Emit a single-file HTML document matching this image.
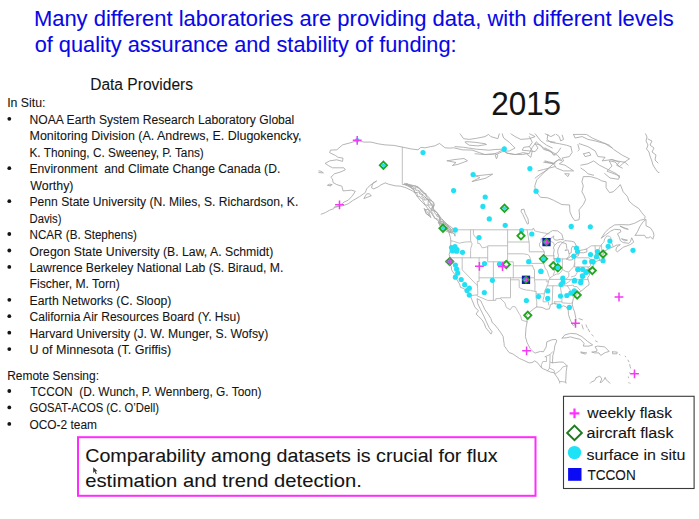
<!DOCTYPE html>
<html><head><meta charset="utf-8"><style>
html,body{margin:0;padding:0;background:#fff;width:699px;height:519px;overflow:hidden}
svg{display:block}
text{font-family:"Liberation Sans",sans-serif;white-space:pre;stroke-width:0.08px}
</style></head><body>
<svg width="699" height="519" viewBox="0 0 699 519">
<rect width="699" height="519" fill="#fff"/>
<defs><clipPath id="mc"><rect x="318" y="133.2" width="341.5" height="250.3"/></clipPath></defs>
<g clip-path="url(#mc)" fill="none" stroke-linejoin="round" stroke-linecap="round">
<path d="M452.8 229.8 L533.0 229.8 L533.0 228.2 L534.0 228.6 L534.6 230.9 L537.7 231.6 L542.0 232.6 L546.2 233.3 L549.1 233.9 M569.3 253.8 L569.0 256.6 L567.3 257.8 M578.9 252.9 L579.0 254.2 M586.7 248.9 L591.3 245.8 L600.4 245.8 L601.5 244.6 L603.8 242.2 L604.7 238.9 L606.9 235.9 L609.5 236.3 L610.9 237.5 L610.9 242.9 L612.1 243.3 L613.2 246.6 M402.3 147.1 L402.3 184.6 L407.7 184.3 L412.3 188.9 L418.0 186.6 L419.4 188.2 L423.7 192.2 L428.5 199.3 L433.7 202.2 L433.7 204.6 L432.0 206.9 M470.4 295.6 L477.2 294.9 L477.0 295.8 L487.6 300.4 L495.8 300.4 L495.8 298.6 L500.6 298.6 L504.9 302.9 L506.3 307.4 L510.3 309.8 L512.3 306.6 L515.2 306.7 L519.2 313.8 L520.6 315.8 L521.7 320.1 L527.3 321.9 M450.8 240.8 L453.6 241.3 L459.3 243.2 L465.0 242.0 L470.9 241.8 M470.6 229.8 L470.6 240.2 L470.9 241.8 L472.1 243.8 L471.6 245.8 L470.7 248.6 L470.6 250.6 L470.6 257.8 M450.2 257.8 L487.7 257.8 M462.2 257.8 L462.2 269.8 L477.5 285.8 L477.6 288.6 L477.8 293.8 L477.2 294.9 M479.1 257.8 L479.1 281.4 L477.2 281.4 L477.5 285.8 M479.1 277.8 L513.3 277.8 M493.4 261.8 L493.4 300.4 M487.7 247.8 L487.7 261.8 L507.6 261.8 M473.4 229.8 L473.4 233.8 L474.4 235.9 L477.6 239.2 L477.8 243.6 L479.5 243.3 L482.1 247.8 L484.1 247.6 L486.7 246.9 L487.7 247.8 L487.7 245.8 L507.6 245.8 M507.6 229.8 L507.6 261.8 L513.3 261.8 L513.3 277.8 M513.3 265.8 L532.6 265.8 M513.3 277.8 L534.5 277.8 M510.5 277.8 L510.5 297.8 L500.4 297.8 L500.6 298.6 M510.5 279.8 L519.2 279.8 L519.2 287.5 L522.0 288.9 L526.3 290.1 L530.6 290.4 L534.8 291.4 L536.1 291.6 M507.6 242.0 L529.0 242.0 M507.6 253.8 L523.4 253.8 L527.7 254.6 L529.3 255.8 L530.6 259.8 L531.0 263.4 L531.2 263.4 L543.7 263.4 M527.1 229.8 L528.1 235.8 L529.0 242.0 L529.3 244.6 L529.3 251.8 L544.2 251.8 M532.6 265.8 L533.7 269.4 L534.5 269.4 L534.5 279.8 L535.0 284.1 L534.9 291.2 M534.5 279.8 L547.2 279.8 L546.6 281.8 L548.5 281.8 M536.1 291.6 L536.1 293.8 L544.4 293.8 M536.1 293.8 L536.1 297.8 L536.8 301.8 L536.7 306.9 M544.2 251.8 L544.5 254.9 L546.0 257.8 L544.8 260.9 L543.7 263.4 L545.1 268.1 L547.1 270.6 L549.1 276.6 L550.2 277.9 L548.8 279.8 L548.5 281.8 L547.4 285.8 L546.0 288.1 L544.5 291.4 L544.4 293.8 L544.0 296.6 L543.1 299.8 L543.1 301.8 L548.4 301.8 L548.8 304.9 M541.1 238.9 L541.1 241.8 L539.4 243.3 L539.7 246.6 L542.5 248.9 L544.2 251.8 M545.8 255.8 L553.9 255.8 M546.5 239.5 L550.5 241.3 L553.4 242.6 L554.5 245.3 M554.7 258.9 L554.7 268.1 L554.5 271.8 L553.4 274.6 M550.2 277.8 L553.1 275.8 L556.2 274.1 L559.1 273.9 L561.9 270.9 L562.5 269.4 L565.6 271.4 L568.8 272.1 L570.7 269.8 L573.6 266.9 L574.7 263.2 M562.4 258.9 L562.4 269.4 M554.8 258.9 L566.3 258.9 M549.4 279.4 L571.3 279.4 M565.6 279.6 L587.8 279.6 M571.3 279.4 L568.8 281.8 L563.9 284.9 L563.9 285.8 M546.8 285.8 L567.3 285.8 M552.8 285.8 L552.2 304.1 M560.2 285.8 L561.9 296.6 L561.9 301.8 M554.5 301.8 L561.9 301.8 L562.2 302.9 L570.5 303.4 L571.9 302.9 M554.5 301.8 L555.1 304.1 M567.3 285.8 L569.9 289.8 L573.3 297.4 M567.3 285.8 L573.3 285.1 L573.9 286.6 L577.0 286.6 L580.3 290.4 M565.6 279.4 L568.8 276.6 L568.8 272.9 M571.3 276.9 L575.3 275.8 L577.6 271.8 L580.7 268.9 L582.7 268.6 L584.7 270.6 L586.7 274.1 M574.7 266.9 L588.1 266.9 M574.7 266.9 L574.7 257.8 M576.8 257.8 L589.4 257.8 L590.4 259.8 L591.3 260.4 L593.3 261.8 M591.3 260.4 L590.1 263.4 L591.0 265.4 L589.0 266.9 M588.1 266.9 L588.4 271.9 L590.3 271.9 M595.1 245.8 L595.3 251.3 L595.4 254.8 M594.7 257.6 L594.7 261.4 L594.3 261.8 M594.7 257.6 L599.5 257.6 L599.5 260.6 M597.5 254.8 L598.7 250.2 L600.4 245.8 M601.5 244.6 L601.8 251.3 L602.7 253.3 M595.4 254.8 L601.0 254.9 L602.4 254.3 M541.4 367.6 L541.4 364.8 L542.8 361.5 L546.5 361.5 L546.5 356.8 L544.8 356.8 L550.1 354.5 L552.5 351.8 M550.1 354.6 L549.9 362.1 L552.8 362.9 M549.9 362.1 L549.5 368.1 L547.4 370.9 M549.5 368.1 L553.9 370.1 L554.8 372.9 M555.4 373.8 L559.9 370.6 L562.8 366.9 L567.2 365.8 M559.9 381.4 L565.8 382.1" stroke="#b9b9b9" stroke-width="0.9"/>
<path d="M334.2 207.3 L339.6 205.8 L343.9 202.2 L348.2 200.2 L352.4 195.8 L355.3 191.3 L351.6 190.2 L346.7 190.6 L343.0 190.9 L341.9 186.2 L336.8 184.6 L333.1 182.6 L332.5 178.9 L330.8 177.3 L334.5 173.8 L341.0 171.8 L345.3 169.8 L343.9 167.8 L338.2 167.8 L332.5 167.8 L328.8 165.8 L325.1 163.4 L329.6 160.9 L336.8 159.8 L342.5 161.4 L343.0 158.1 L338.2 157.4 L335.3 155.4 L329.6 152.6 L330.5 150.1 L336.8 149.8 L342.5 144.9 L351.0 142.6 L358.1 140.4 L363.8 142.1 L371.0 142.1 L378.1 143.8 L385.2 144.9 L393.8 145.4 L402.3 147.1 L410.9 148.9 L418.0 149.8 L420.8 147.4 L425.1 147.8 L430.8 146.6 L435.1 145.8 L439.4 143.4 L445.1 147.8 L449.3 148.1 L453.6 147.8 L462.2 149.8 L472.1 150.1 L479.3 152.6 L485.0 154.6 L493.5 154.1 L497.8 152.6 L502.1 150.1 L507.8 153.4 L514.9 154.6 L523.4 152.6 L529.1 153.8 L532.0 147.8 L536.3 141.8 L540.5 145.8 L546.2 149.8 L553.4 152.6 L557.6 155.4 L561.9 160.6 L558.5 159.8 L553.4 163.8 L546.2 170.2 L542.0 174.6 L536.8 179.8 L534.8 185.8 L535.4 190.9 L540.5 197.3 L547.7 197.8 L553.4 200.2 L561.9 204.6 L569.6 204.9 L569.9 211.8 L571.9 216.6 L574.7 220.6 L579.0 219.8 L579.6 215.8 L579.0 209.8 L583.3 204.6 L585.6 199.8 L584.1 195.8 L581.9 191.8 L583.3 185.8 L581.9 181.8 L583.3 176.6 L590.4 176.6 L597.5 178.6 L601.8 180.9 L606.1 181.8 L606.1 187.8 L609.5 192.6 L613.2 191.8 L617.5 187.8 L620.3 184.6 L623.2 191.8 L627.5 196.6 L628.9 200.9 L633.2 204.9 L638.9 208.6 L641.7 212.6 L645.1 216.6 L644.6 219.3 L640.3 220.2 L634.6 223.3 L628.9 224.9 L621.8 224.6 L614.6 224.9 L608.9 228.6 L604.7 232.9 L601.2 238.3 L606.1 234.6 L610.4 231.3 L614.6 229.3 L620.3 229.8 L620.9 231.8 L617.5 233.8 L619.5 237.8 L620.3 240.6 L623.2 242.6 L628.9 243.3 L630.3 241.8 L631.7 237.8 L633.2 240.9 L633.7 242.2 L630.3 244.6 L623.2 247.3 L617.5 251.8 L615.8 250.6 L616.6 247.3 L620.3 244.6 L616.1 245.3 L613.2 246.9 L609.8 248.2 L606.1 250.2 L604.0 251.2 L603.0 255.3 L601.8 256.6 L604.7 258.1 L603.2 259.4 L600.4 260.1 L597.5 260.8 L593.8 262.6 L593.3 263.8 L593.3 266.6 L590.7 270.1 L589.0 267.8 L590.1 271.8 L589.0 275.8 L587.6 277.8 L589.0 282.6 L589.0 284.9 L586.1 286.9 L582.1 290.4 L578.4 292.9 L576.2 295.4 L573.3 298.6 L572.2 304.1 L573.3 308.6 L574.6 311.9 L575.9 318.6 L575.7 322.6 L574.7 324.9 L573.0 325.4 L571.3 322.1 L569.9 318.9 L568.5 314.6 L568.2 310.1 L566.2 306.9 L563.6 305.8 L560.8 306.9 L557.6 304.1 L553.4 303.4 L550.5 304.6 L549.4 308.9 L546.2 309.4 L542.0 307.4 L536.8 306.9 L534.0 308.6 L529.1 312.6 L526.6 315.8 L527.1 321.9 L526.0 327.8 L525.4 336.6 L527.1 342.6 L530.3 348.9 L533.4 351.8 L535.1 353.1 L540.5 351.4 L543.4 351.8 L546.2 346.9 L546.8 341.8 L551.9 339.8 L555.9 339.4 L556.8 340.9 L554.8 345.8 L554.2 350.6 L552.8 355.8 L552.5 361.8 L551.7 362.6 L554.8 362.6 L559.1 362.1 L563.3 362.1 L567.0 365.8 L566.2 371.8 L565.9 377.8 L565.6 381.8 L566.5 384.6 M559.9 384.6 L559.6 381.8 L557.6 377.8 L554.8 374.1 L553.9 372.6 L550.5 372.1 L546.2 370.1 L543.4 368.9 L541.1 367.4 L537.7 362.9 L534.8 360.9 L532.0 362.6 L529.1 362.9 L524.9 360.9 L519.4 358.4 L514.9 355.4 L512.9 353.9 L509.2 352.6 L506.9 349.6 L504.3 345.8 L504.1 343.4 L503.5 339.8 L503.2 336.6 L500.9 332.9 L497.8 328.6 L494.9 324.9 L492.4 322.9 L490.9 318.6 L488.1 314.1 L485.0 309.8 L482.7 304.9 L480.7 300.6 L477.0 298.6 L477.8 303.8 L480.7 309.8 L484.1 316.6 L486.4 321.8 L489.2 327.8 L492.1 331.8 L490.9 334.1 L489.2 331.8 L485.8 327.8 L484.4 323.8 L482.1 319.8 L478.7 316.6 L476.1 314.1 L478.4 310.6 L475.0 307.4 L471.9 299.8 L470.4 295.6 L470.1 294.6 L468.4 291.4 L466.7 290.1 L465.6 289.8 L462.7 288.1 L460.5 287.4 L459.6 284.1 L456.7 279.4 L455.3 276.9 L455.0 274.6 L453.6 272.9 L451.6 269.9 L451.3 266.6 L449.6 264.0 L450.2 261.8 L450.2 257.8 L449.1 254.6 L449.9 251.8 L450.5 247.8 L450.9 240.9 L450.5 237.8 L448.8 232.2 L452.2 232.9 L454.2 233.8 L455.0 236.2 L455.0 232.6 L453.3 229.8 L452.2 227.8 L449.3 225.8 L446.5 223.8 L442.2 221.8 L439.9 220.9 L439.4 217.8 L437.9 213.8 L433.7 209.8 L432.8 206.6 L430.8 203.8 L428.0 199.8 L423.7 195.8 L419.4 191.8 L414.9 192.9 L412.3 190.9 L406.0 187.8 L400.9 186.2 L395.2 185.8 L388.6 184.2 L385.2 182.9 L380.9 184.9 L378.1 186.9 L373.8 188.9 L371.5 187.8 L372.7 183.3 L376.7 180.9 L369.5 185.8 L366.7 188.9 L365.3 192.6 L359.6 196.6 L352.7 200.6 L348.2 203.8 L342.5 205.8 L334.2 207.3 M452.8 232.2 L449.3 231.3 L446.5 229.8 L442.2 226.6 L438.2 222.6 L442.2 223.3 L447.1 225.3 L450.8 228.6 L452.8 232.2 M430.8 217.3 L426.5 213.8 L424.8 209.8 L428.8 209.3 L429.4 213.8 L430.8 217.3 M371.0 195.8 L363.8 198.6 L366.7 193.8 L369.5 193.8 L371.0 195.8 M330.2 185.8 L332.2 184.6 L329.4 184.2 L327.4 185.3 L330.2 185.8 M318.8 172.6 L323.4 172.9 L321.1 171.3 L318.8 170.9 M333.9 208.6 L329.6 210.2 L325.4 212.6 L321.1 214.2 M635.2 235.3 L637.4 231.8 L640.3 225.8 L643.1 221.8 L646.0 219.3 L646.0 225.8 L650.3 227.8 L653.1 231.8 L654.0 235.3 L652.8 239.2 L650.3 236.6 L648.8 237.8 L646.0 237.8 L644.6 235.3 L638.9 235.3 L635.2 235.3 M621.8 238.9 L627.5 240.2 L624.6 240.9 L621.8 238.9 M620.3 226.2 L628.3 229.3 L624.6 228.6 L620.3 226.2 M562.2 338.1 L564.8 334.9 L570.5 333.4 L576.2 333.8 L581.9 336.6 L587.6 341.4 L592.7 344.9 L589.0 346.1 L583.3 346.1 L584.1 343.4 L580.4 339.4 L574.7 338.1 L570.5 336.9 L566.2 337.8 L562.2 338.1 M592.1 352.1 L596.7 351.4 L597.0 349.8 L595.0 346.9 L597.5 346.1 L604.7 346.9 L609.2 351.4 L605.2 352.6 L600.7 355.4 L599.0 352.9 L594.7 352.9 L592.1 352.1 M581.0 352.1 L586.7 352.9 L585.3 354.1 L581.0 352.9 L581.0 352.1 M612.6 351.8 L617.2 352.1 L616.9 353.8 L612.6 353.8 L612.6 351.8 M596.1 377.8 L599.8 376.1 L601.8 378.9 L600.1 382.6 L601.8 382.1 L604.1 379.4 L605.2 377.4 L606.1 379.8 L608.9 382.1 L610.4 383.8 M589.6 383.8 L591.8 381.8 L594.7 380.6 L596.1 377.8 M579.0 318.6 L582.4 319.8 M581.9 324.9 L583.3 328.9 M586.1 324.9 L587.0 327.4 M588.1 328.9 L589.6 331.8 M591.8 334.6 L593.3 336.1 M595.5 340.9 L597.3 341.8 M619.5 354.6 L620.1 354.9 M625.2 356.1 L625.8 356.9 M628.0 360.1 L628.9 361.8 M629.7 364.6 L630.0 366.1 M630.3 366.9 L630.6 368.1 M629.7 372.6 L630.0 373.4 M634.0 372.9 L634.6 373.8 M628.3 376.9 L628.6 377.8 M628.6 382.9 L630.6 383.4 M541.7 238.9 L543.4 238.8 L546.2 239.3 L550.5 238.6 L553.9 235.9 L553.4 237.8 L554.5 239.8 L557.1 240.2 L560.5 239.3 L563.3 239.8 L562.8 237.8 L561.9 234.2 L557.6 230.9 L552.5 230.6 L549.9 232.2 L547.7 233.8 L544.8 235.8 L541.7 238.9 M553.9 258.9 L557.4 258.6 L558.5 255.8 L557.6 251.8 L558.2 248.9 L560.2 244.9 L562.8 242.6 L560.5 241.8 L557.6 242.6 L554.5 245.3 L553.4 247.8 L554.2 249.8 L553.6 253.8 L553.9 256.9 L553.9 258.9 M562.8 242.6 L566.2 243.8 L566.5 245.8 L566.8 248.6 L565.0 250.6 L568.2 249.8 L569.0 253.8 L571.3 252.6 L571.3 248.9 L572.5 246.2 L574.7 247.3 L576.2 245.8 L574.5 242.2 L571.9 241.3 L567.6 240.9 L564.8 240.6 L562.8 242.6 M566.5 258.9 L569.0 260.1 L571.9 259.8 L575.6 257.4 L579.0 254.9 L577.6 254.3 L574.7 255.3 L571.9 255.3 L569.0 257.8 L566.5 258.9 M576.7 252.6 L579.0 252.6 L583.3 252.8 L587.0 251.8 L586.7 248.9 L583.3 249.8 L579.0 250.6 L577.9 251.2 L576.7 252.6 M521.6 209.7 L524.0 209.1 L525.1 213.2 L528.0 218.9 L528.6 223.6 L527.4 224.1 L525.7 220.7 L522.8 214.3 L521.0 211.4 L521.6 209.7 M447.2 160.8 L455.0 159.5 L464.0 158.5 L467.5 160.8 L458.2 164.3 L452.4 165.5 L456.0 162.5 L447.2 160.8 M475.4 175.9 L484.0 175.0 L492.7 174.1 L485.8 178.2 L471.9 181.6 L480.0 177.5 L475.4 175.9 M460.0 133.7 L463.6 138.7 L469.3 139.4 L476.5 138.3 L485.0 136.6 L488.6 134.4 L490.8 136.6 L497.9 138.7 L499.3 133.7 M465.7 141.6 L475.0 142.3 L485.0 143.7 L486.5 144.5 L477.9 145.9 L469.3 145.2 L465.0 142.3 M455.0 146.6 L463.6 147.3 L476.5 149.2 L489.3 150.2 L495.1 149.5 L502.2 149.2 M475.0 153.8 L485.0 154.5 L495.1 153.8 L497.9 155.2 L496.5 158.8 L495.1 155.2 L502.2 151.6 L509.4 150.9 L515.1 148.0 L512.2 145.2 L509.4 142.3 L503.6 138.0 L502.2 133.7 M502.2 149.5 L506.5 153.0 L515.1 154.5 L522.2 154.5 L526.5 153.8 L530.8 157.3 L532.3 150.9 L529.4 146.6 M510.8 133.7 L515.1 136.6 L520.8 139.4 L529.4 138.7 L535.1 136.6 L529.4 133.7 M529.4 136.6 L532.3 142.3 L529.4 146.6 L523.7 147.3 L522.2 150.2 L529.4 150.9 L535.1 151.6 L538.0 148.0 L535.1 143.7 L540.8 145.2 L543.7 149.5 L549.4 150.9 L555.0 155.2 M535.1 133.7 L540.8 140.9 L546.6 145.2 L552.3 148.0 M545.1 133.7 L550.9 136.6 L555.0 134.4 M546.6 140.9 L555.0 142.3 M543.7 162.3 L555.0 163.8 M538.0 170.9 L543.7 169.5 L555.0 166.6 M535.1 178.1 L540.8 173.8 L548.0 169.5 M573.6 134.4 L586.5 134.4 L592.2 138.0 L602.2 142.3 L609.4 145.2 L613.7 149.5 L622.3 155.2 L629.4 158.8 M573.6 134.4 L575.0 138.0 L582.2 136.6 L587.9 139.4 L595.1 140.9 L605.1 143.7 L612.2 148.0 M579.3 143.7 L587.9 146.6 L595.1 150.9 L597.9 156.6 L605.1 157.3 L602.2 160.9 L612.2 159.5 L619.4 162.3 L616.5 165.2 L622.3 168.1 M577.9 144.5 L579.3 149.5 L577.9 150.9 M583.6 153.8 L589.3 152.3 L590.8 155.2 L585.1 156.6 L583.6 153.8 M570.8 146.6 L572.2 152.3 L569.3 156.6 L562.2 158.0 L563.6 160.9 L559.3 163.8 L565.0 165.2 L573.6 170.9 L563.6 170.9 L556.4 168.1 L553.6 163.8 L545.0 161.6 M547.9 134.4 L547.1 139.4 L550.7 142.3 L559.3 143.7 L566.5 145.2 L570.8 146.6 M556.4 134.4 L559.3 136.6 L560.7 140.9 L563.6 139.4 L562.2 135.2 M545.0 148.0 L550.7 150.9 L553.6 155.2 L557.9 152.3 L560.7 148.0 M545.0 160.9 L553.6 163.1 L556.4 160.9 L559.3 159.5 M580.8 165.2 L587.9 163.8 L593.6 160.9 L599.4 165.2 L607.9 169.5 L616.5 173.8 L619.4 177.4 M580.8 168.1 L585.1 170.9 L587.9 173.8 L593.6 175.2 M565.0 173.8 L569.3 173.8 L567.9 176.6 L565.0 173.8 M610.8 159.5 L616.5 160.9 L625.1 162.3 L628.0 165.2 M645.5 133.7 L647.0 137.0 L646.0 141.0 L648.0 145.0 L646.5 149.0 L649.0 152.0 L650.0 156.0 L651.5 160.0 L653.0 165.0 L655.5 169.0 L658.0 172.4 L659.5 172.4 M648.0 139.0 L652.0 141.0 L650.0 145.0 L654.0 148.0 L652.0 152.0 L656.0 155.0 L655.0 160.0 L658.0 163.0 M628.9 159.1 L623.1 163.2 L619.7 166.6 L615.0 162.0 L609.2 160.8 L612.0 166.0 L607.0 171.2 L619.7 175.9 L618.5 179.3 L610.0 178.0 L604.7 173.6 M403.9 184.5 L405.9 184.9 L407.4 185.1 L408.5 185.7 L411.3 186.5 L412.3 188.7 L413.6 189.4 L414.5 190.5 L414.3 191.9 L416.4 192.6 L417.4 194.2 L416.8 196.2 L419.7 196.4 L420.6 198.0 L422.7 198.7 L423.1 201.4 L424.3 202.5 L424.3 204.7 L425.7 204.7 L428.4 205.8 L429.1 206.9 L430.0 208.5 L431.7 209.5 L430.7 211.6 L433.0 213.3 L432.8 215.1 L433.8 216.2 L434.4 218.2 L435.9 218.8 L437.3 218.7 L439.5 221.2 L439.9 221.3 L441.8 224.3 L441.8 224.7 L443.6 226.3 L444.1 227.2 L446.3 229.1 L447.6 229.1 L448.2 230.7 L450.8 231.5 L451.3 232.0 M404.4 183.2 L405.9 184.4 L407.2 184.8 L409.4 185.3 L412.0 185.5 L412.6 187.0 L414.7 189.0 L415.7 188.2 L415.9 190.4 L417.9 190.1 L419.9 191.3 L419.5 194.0 L422.9 194.6 L421.6 196.6 L424.2 197.7 L424.0 200.0 L427.7 199.7 L428.3 200.4 L428.2 202.0 L428.0 204.9 L431.6 205.1 L433.3 206.7 L431.1 208.3 L431.3 210.8 L433.4 210.6 L434.3 211.8 L435.7 214.2 L436.2 214.3 L437.1 216.5 L438.5 216.8 L440.1 217.9 L439.8 221.9 L441.3 221.8 L443.5 221.9 L443.6 223.4 L445.9 224.6 L446.8 226.5 L447.5 226.9 L448.6 229.5 L450.1 230.0 L451.3 230.9 M406.2 183.6 L407.5 184.1 L408.1 184.6 L409.5 185.9 L411.9 186.3 L413.6 186.1 L416.0 186.0 L416.6 187.0 L418.6 188.3 L420.5 189.3 L420.8 190.8 L422.2 191.9 L423.7 193.8 L425.8 193.5 L426.3 196.4 L425.3 197.9 L426.5 198.7 L430.0 199.9 L429.8 202.0 L431.1 203.9 L432.4 204.2 L434.1 205.7 L432.5 207.5 L432.3 208.4 L432.5 209.5 L433.5 210.9 L435.6 211.4 L437.6 213.3 L437.1 215.0 L438.7 215.2 L440.5 218.3 L440.3 220.1 L442.6 219.5 L443.5 222.2 L445.1 223.7 L445.4 224.0 L447.4 225.9 L448.2 227.5 L448.6 228.2 L449.7 229.0 L451.0 230.7 M404.3 184.3 L412.9 188.6 L415.8 194.3 L420.0 200.0 L425.8 205.8 L430.0 211.5 L434.4 217.2 L440.0 223.0 L445.8 228.7 L451.5 233.0 M405.8 183.6 L417.2 186.5 L422.9 191.5 L430.0 198.6 L434.4 204.3 L433.0 208.6 L437.2 212.9 L441.5 218.6 L447.2 224.3 L451.5 230.0 M424.3 208.6 L427.5 212.0 L429.4 215.8 L426.0 213.5 L424.3 208.6 M438.6 222.4 L444.0 226.0 L450.1 232.8 L446.0 231.0 L440.0 226.0 L438.6 222.4" stroke="#a8a8a8" stroke-width="0.85"/>
</g>
<circle cx="423" cy="152.5" r="2.6" fill="#22e0f4"/>
<circle cx="504.3" cy="148.9" r="2.6" fill="#22e0f4"/>
<circle cx="529.9" cy="168.6" r="2.6" fill="#22e0f4"/>
<circle cx="473.1" cy="174.5" r="2.6" fill="#22e0f4"/>
<circle cx="453.6" cy="190.6" r="2.6" fill="#22e0f4"/>
<circle cx="485.2" cy="197" r="2.6" fill="#22e0f4"/>
<circle cx="482.9" cy="206.4" r="2.6" fill="#22e0f4"/>
<circle cx="489.3" cy="218.9" r="2.6" fill="#22e0f4"/>
<circle cx="505.2" cy="225.3" r="2.6" fill="#22e0f4"/>
<circle cx="536.1" cy="191.2" r="2.6" fill="#22e0f4"/>
<circle cx="521.6" cy="230.5" r="2.6" fill="#22e0f4"/>
<circle cx="531.8" cy="234" r="2.6" fill="#22e0f4"/>
<circle cx="455.3" cy="229.9" r="2.6" fill="#22e0f4"/>
<circle cx="571.2" cy="226.4" r="2.6" fill="#22e0f4"/>
<circle cx="590.3" cy="226.8" r="2.6" fill="#22e0f4"/>
<circle cx="633" cy="250.3" r="2.6" fill="#22e0f4"/>
<circle cx="609.9" cy="241.1" r="2.6" fill="#22e0f4"/>
<circle cx="608.2" cy="246.3" r="2.6" fill="#22e0f4"/>
<circle cx="479" cy="237.6" r="2.6" fill="#22e0f4"/>
<circle cx="451.5" cy="247.5" r="2.6" fill="#22e0f4"/>
<circle cx="455" cy="246.5" r="2.6" fill="#22e0f4"/>
<circle cx="457" cy="249.5" r="2.6" fill="#22e0f4"/>
<circle cx="452.5" cy="251" r="2.6" fill="#22e0f4"/>
<circle cx="456.6" cy="251.2" r="2.6" fill="#22e0f4"/>
<circle cx="462.5" cy="252.3" r="2.6" fill="#22e0f4"/>
<circle cx="455.4" cy="265" r="2.6" fill="#22e0f4"/>
<circle cx="456.6" cy="269.1" r="2.6" fill="#22e0f4"/>
<circle cx="457.7" cy="273.1" r="2.6" fill="#22e0f4"/>
<circle cx="455.4" cy="277.2" r="2.6" fill="#22e0f4"/>
<circle cx="461.2" cy="279.5" r="2.6" fill="#22e0f4"/>
<circle cx="464.7" cy="284.7" r="2.6" fill="#22e0f4"/>
<circle cx="469.3" cy="288.2" r="2.6" fill="#22e0f4"/>
<circle cx="467" cy="290.5" r="2.6" fill="#22e0f4"/>
<circle cx="469.3" cy="295.1" r="2.6" fill="#22e0f4"/>
<circle cx="484.5" cy="263.6" r="2.6" fill="#22e0f4"/>
<circle cx="499.5" cy="264.2" r="2.6" fill="#22e0f4"/>
<circle cx="492.4" cy="280.3" r="2.6" fill="#22e0f4"/>
<circle cx="484.3" cy="292.5" r="2.6" fill="#22e0f4"/>
<circle cx="528.7" cy="261.7" r="2.6" fill="#22e0f4"/>
<circle cx="540.8" cy="271" r="2.6" fill="#22e0f4"/>
<circle cx="558.2" cy="260.2" r="2.6" fill="#22e0f4"/>
<circle cx="576.5" cy="248" r="2.6" fill="#22e0f4"/>
<circle cx="577.5" cy="251.5" r="2.6" fill="#22e0f4"/>
<circle cx="573.8" cy="256.2" r="2.6" fill="#22e0f4"/>
<circle cx="590.5" cy="254.5" r="2.6" fill="#22e0f4"/>
<circle cx="584.7" cy="262" r="2.6" fill="#22e0f4"/>
<circle cx="597.5" cy="251.6" r="2.6" fill="#22e0f4"/>
<circle cx="591.7" cy="261.4" r="2.6" fill="#22e0f4"/>
<circle cx="596.6" cy="256.7" r="2.6" fill="#22e0f4"/>
<circle cx="593.1" cy="261.9" r="2.6" fill="#22e0f4"/>
<circle cx="603" cy="260.7" r="2.6" fill="#22e0f4"/>
<circle cx="578.1" cy="269.4" r="2.6" fill="#22e0f4"/>
<circle cx="582.7" cy="269.4" r="2.6" fill="#22e0f4"/>
<circle cx="586.8" cy="271.7" r="2.6" fill="#22e0f4"/>
<circle cx="582.7" cy="276.3" r="2.6" fill="#22e0f4"/>
<circle cx="574.6" cy="280.4" r="2.6" fill="#22e0f4"/>
<circle cx="581" cy="281" r="2.6" fill="#22e0f4"/>
<circle cx="577.8" cy="269.5" r="2.6" fill="#22e0f4"/>
<circle cx="585.9" cy="272.4" r="2.6" fill="#22e0f4"/>
<circle cx="582.4" cy="275.8" r="2.6" fill="#22e0f4"/>
<circle cx="562.8" cy="278.2" r="2.6" fill="#22e0f4"/>
<circle cx="561" cy="284.5" r="2.6" fill="#22e0f4"/>
<circle cx="563" cy="282" r="2.6" fill="#22e0f4"/>
<circle cx="574.3" cy="281" r="2.6" fill="#22e0f4"/>
<circle cx="580.7" cy="282.8" r="2.6" fill="#22e0f4"/>
<circle cx="547.7" cy="290.9" r="2.6" fill="#22e0f4"/>
<circle cx="538.5" cy="296.6" r="2.6" fill="#22e0f4"/>
<circle cx="547.7" cy="298.4" r="2.6" fill="#22e0f4"/>
<circle cx="560.5" cy="296.1" r="2.6" fill="#22e0f4"/>
<circle cx="566.8" cy="295.5" r="2.6" fill="#22e0f4"/>
<circle cx="570.9" cy="293.2" r="2.6" fill="#22e0f4"/>
<circle cx="574.3" cy="290.9" r="2.6" fill="#22e0f4"/>
<circle cx="526.4" cy="300.5" r="2.6" fill="#22e0f4"/>
<circle cx="541" cy="271.5" r="2.6" fill="#22e0f4"/>
<circle cx="559.1" cy="306.2" r="2.6" fill="#22e0f4"/>
<circle cx="569.4" cy="307.4" r="2.6" fill="#22e0f4"/>
<rect x="542.35" y="237.95" width="8.3" height="8.3" fill="#1515b0"/>
<path d="M546.5 238.79999999999998L549.8 242.1L546.5 245.4L543.2 242.1Z" fill="none" stroke="#22a622" stroke-width="1.4"/>
<circle cx="545.7" cy="242.1" r="1.5" fill="#22e0f4"/>
<path d="M544.5 242.1H549.0999999999999M546.8 239.79999999999998V244.4" stroke="#f23af2" stroke-width="1.5"/>
<rect x="521.85" y="275.65000000000003" width="8.3" height="8.3" fill="#1515b0"/>
<path d="M526.0 276.5L529.3 279.8L526.0 283.1L522.7 279.8Z" fill="none" stroke="#22a622" stroke-width="1.4"/>
<circle cx="525.2" cy="279.8" r="1.5" fill="#22e0f4"/>
<path d="M524.0 279.8H528.5999999999999M526.3 277.5V282.1" stroke="#f23af2" stroke-width="1.5"/>
<path d="M383.4 161.6L387.0 165.2L383.4 168.79999999999998L379.79999999999995 165.2Z" fill="none" stroke="#22a622" stroke-width="1.9" stroke-linejoin="miter"/><circle cx="383.4" cy="165.2" r="1.8" fill="#22e0f4"/>
<path d="M443.0 224.6L446.6 228.2L443.0 231.79999999999998L439.4 228.2Z" fill="none" stroke="#22a622" stroke-width="1.9" stroke-linejoin="miter"/><circle cx="443.0" cy="228.2" r="1.8" fill="#22e0f4"/>
<path d="M504.5 204.70000000000002L508.1 208.3L504.5 211.9L500.9 208.3Z" fill="none" stroke="#22a622" stroke-width="1.9" stroke-linejoin="miter"/><circle cx="504.5" cy="208.3" r="1.8" fill="#22e0f4"/>
<path d="M449.7 258.0L453.3 261.6L449.7 265.20000000000005L446.09999999999997 261.6Z" fill="none" stroke="#22a622" stroke-width="1.9" stroke-linejoin="miter"/><circle cx="449.7" cy="261.6" r="1.8" fill="#22e0f4"/>
<path d="M506.3 260.9L509.90000000000003 264.5L506.3 268.1L502.7 264.5Z" fill="none" stroke="#22a622" stroke-width="1.9" stroke-linejoin="miter"/>
<path d="M521 232.20000000000002L524.6 235.8L521 239.4L517.4 235.8Z" fill="none" stroke="#22a622" stroke-width="1.9" stroke-linejoin="miter"/>
<path d="M543.5 255.20000000000002L547.1 258.8L543.5 262.40000000000003L539.9 258.8Z" fill="none" stroke="#22a622" stroke-width="1.9" stroke-linejoin="miter"/><circle cx="543.5" cy="258.8" r="2.4" fill="#22e0f4"/>
<path d="M553.3 262.2L556.9 265.8L553.3 269.40000000000003L549.6999999999999 265.8Z" fill="none" stroke="#22a622" stroke-width="1.9" stroke-linejoin="miter"/>
<path d="M557.8 264.2L561.4 267.8L557.8 271.40000000000003L554.1999999999999 267.8Z" fill="none" stroke="#22a622" stroke-width="1.9" stroke-linejoin="miter"/><circle cx="557.8" cy="267.8" r="2.4" fill="#22e0f4"/>
<path d="M592.3 267.0L595.9 270.6L592.3 274.20000000000005L588.6999999999999 270.6Z" fill="none" stroke="#22a622" stroke-width="1.9" stroke-linejoin="miter"/>
<path d="M603 250.5L606.6 254.1L603 257.7L599.4 254.1Z" fill="none" stroke="#22a622" stroke-width="1.9" stroke-linejoin="miter"/>
<path d="M577.2 291.4L580.8000000000001 295L577.2 298.6L573.6 295Z" fill="none" stroke="#22a622" stroke-width="1.9" stroke-linejoin="miter"/>
<path d="M527.8 311.7L531.4 315.3L527.8 318.90000000000003L524.1999999999999 315.3Z" fill="none" stroke="#22a622" stroke-width="1.9" stroke-linejoin="miter"/>
<circle cx="357.2" cy="140.3" r="2.2" fill="#22e0f4"/>
<path d="M352.8 140.3H361.59999999999997M357.2 135.9V144.70000000000002" stroke="#f23af2" stroke-width="1.5"/>
<path d="M335.1 204.8H343.9M339.5 200.4V209.20000000000002" stroke="#f23af2" stroke-width="1.5"/>
<path d="M475.0 266.3H483.79999999999995M479.4 261.90000000000003V270.7" stroke="#f23af2" stroke-width="1.5"/>
<path d="M498.1 266.5H506.9M502.5 262.1V270.9" stroke="#f23af2" stroke-width="1.5"/>
<path d="M445.3 261.6H454.09999999999997M449.7 257.20000000000005V266.0" stroke="#f23af2" stroke-width="1.5"/>
<path d="M571.1 323.3H579.9M575.5 318.90000000000003V327.7" stroke="#f23af2" stroke-width="1.5"/>
<path d="M614.6 297H623.4M619 292.6V301.4" stroke="#f23af2" stroke-width="1.5"/>
<path d="M522.2 350.8H531.0M526.6 346.40000000000003V355.2" stroke="#f23af2" stroke-width="1.5"/>
<path d="M630.1 373.8H638.9M634.5 369.40000000000003V378.2" stroke="#f23af2" stroke-width="1.5"/>
<circle cx="449.7" cy="261.6" r="1.6" fill="#f23af2"/>
<rect x="563.5" y="396.3" width="130.6" height="92.2" fill="#fff" stroke="#3a3a3a" stroke-width="1.1"/>
<text x="33.9" y="25.7" font-size="21.5" fill="#0808e6" stroke="#0808e6" textLength="639.9" lengthAdjust="spacingAndGlyphs">Many different laboratories are providing data, with different levels</text>
<text x="34.7" y="51.5" font-size="21.5" fill="#0808e6" stroke="#0808e6" textLength="421.9" lengthAdjust="spacingAndGlyphs">of quality assurance and stability of funding:</text>
<text x="90.2" y="90.2" font-size="15.8" fill="#141414" stroke="#141414" textLength="102.8" lengthAdjust="spacingAndGlyphs">Data Providers</text>
<text x="7.2" y="106.8" font-size="12.3" fill="#141414" stroke="#141414" textLength="38.3" lengthAdjust="spacingAndGlyphs">In Situ:</text>
<text x="29.5" y="123.8" font-size="12.3" fill="#141414" stroke="#141414" textLength="264.8" lengthAdjust="spacingAndGlyphs">NOAA Earth System Research Laboratory Global</text>
<text x="29.5" y="140.3" font-size="12.3" fill="#141414" stroke="#141414" textLength="272.1" lengthAdjust="spacingAndGlyphs">Monitoring Division (A. Andrews, E. Dlugokencky,</text>
<text x="29.5" y="156.8" font-size="12.3" fill="#141414" stroke="#141414" textLength="174.3" lengthAdjust="spacingAndGlyphs">K. Thoning, C. Sweeney, P. Tans)</text>
<text x="29.5" y="173.2" font-size="12.3" fill="#141414" stroke="#141414" textLength="250.8" lengthAdjust="spacingAndGlyphs">Environment  and Climate Change Canada (D.</text>
<text x="30.3" y="189.7" font-size="12.3" fill="#141414" stroke="#141414" textLength="43.2" lengthAdjust="spacingAndGlyphs">Worthy)</text>
<text x="29.5" y="206.2" font-size="12.3" fill="#141414" stroke="#141414" textLength="268.8" lengthAdjust="spacingAndGlyphs">Penn State University (N. Miles, S. Richardson, K.</text>
<text x="29.5" y="222.6" font-size="12.3" fill="#141414" stroke="#141414" textLength="32.0" lengthAdjust="spacingAndGlyphs">Davis)</text>
<text x="29.5" y="239.0" font-size="12.3" fill="#141414" stroke="#141414" textLength="107.5" lengthAdjust="spacingAndGlyphs">NCAR (B. Stephens)</text>
<text x="29.5" y="255.5" font-size="12.3" fill="#141414" stroke="#141414" textLength="243.8" lengthAdjust="spacingAndGlyphs">Oregon State University (B. Law, A. Schmidt)</text>
<text x="29.5" y="271.9" font-size="12.3" fill="#141414" stroke="#141414" textLength="253.8" lengthAdjust="spacingAndGlyphs">Lawrence Berkeley National Lab (S. Biraud, M.</text>
<text x="29.5" y="288.3" font-size="12.3" fill="#141414" stroke="#141414" textLength="90.3" lengthAdjust="spacingAndGlyphs">Fischer, M. Torn)</text>
<text x="29.5" y="304.8" font-size="12.3" fill="#141414" stroke="#141414" textLength="141.8" lengthAdjust="spacingAndGlyphs">Earth Networks (C. Sloop)</text>
<text x="29.5" y="321.2" font-size="12.3" fill="#141414" stroke="#141414" textLength="210.8" lengthAdjust="spacingAndGlyphs">California Air Resources Board (Y. Hsu)</text>
<text x="29.5" y="337.7" font-size="12.3" fill="#141414" stroke="#141414" textLength="238.8" lengthAdjust="spacingAndGlyphs">Harvard University (J. W. Munger, S. Wofsy)</text>
<text x="29.5" y="354.1" font-size="12.3" fill="#141414" stroke="#141414" textLength="141.8" lengthAdjust="spacingAndGlyphs">U of Minnesota (T. Griffis)</text>
<text x="7.2" y="380.2" font-size="12.3" fill="#141414" stroke="#141414" textLength="91.8" lengthAdjust="spacingAndGlyphs">Remote Sensing:</text>
<text x="30.3" y="396.0" font-size="12.3" fill="#141414" stroke="#141414" textLength="231.2" lengthAdjust="spacingAndGlyphs">TCCON  (D. Wunch, P. Wennberg, G. Toon)</text>
<text x="29.5" y="412.4" font-size="12.3" fill="#141414" stroke="#141414" textLength="129.5" lengthAdjust="spacingAndGlyphs">GOSAT-ACOS (C. O’Dell)</text>
<text x="29.5" y="428.9" font-size="12.3" fill="#141414" stroke="#141414" textLength="67.5" lengthAdjust="spacingAndGlyphs">OCO-2 team</text>
<text x="491.2" y="115.0" font-size="33.0" fill="#141414" stroke="#141414" textLength="69.9" lengthAdjust="spacingAndGlyphs">2015</text>
<text x="85.2" y="461.8" font-size="17.8" fill="#141414" stroke="#141414" textLength="412.3" lengthAdjust="spacingAndGlyphs">Comparability among datasets is crucial for flux</text>
<text x="85.2" y="487.2" font-size="17.8" fill="#141414" stroke="#141414" textLength="276.6" lengthAdjust="spacingAndGlyphs">estimation and trend detection.</text>
<text x="587.3" y="417.6" font-size="15.2" fill="#141414" stroke="#141414" textLength="84.7" lengthAdjust="spacingAndGlyphs">weekly flask</text>
<text x="586.5" y="437.7" font-size="15.2" fill="#141414" stroke="#141414" textLength="87.0" lengthAdjust="spacingAndGlyphs">aircraft flask</text>
<text x="586.5" y="459.6" font-size="15.2" fill="#141414" stroke="#141414" textLength="98.8" lengthAdjust="spacingAndGlyphs">surface in situ</text>
<text x="587.5" y="480.1" font-size="15.2" fill="#141414" stroke="#141414" textLength="48.2" lengthAdjust="spacingAndGlyphs">TCCON</text>
<circle cx="9.3" cy="118.8" r="1.9" fill="#141414"/><circle cx="9.3" cy="168.2" r="1.9" fill="#141414"/><circle cx="9.3" cy="201.2" r="1.9" fill="#141414"/><circle cx="9.3" cy="234.0" r="1.9" fill="#141414"/><circle cx="9.3" cy="250.5" r="1.9" fill="#141414"/><circle cx="9.3" cy="266.9" r="1.9" fill="#141414"/><circle cx="9.3" cy="299.8" r="1.9" fill="#141414"/><circle cx="9.3" cy="316.2" r="1.9" fill="#141414"/><circle cx="9.3" cy="332.7" r="1.9" fill="#141414"/><circle cx="9.3" cy="349.1" r="1.9" fill="#141414"/><circle cx="9.3" cy="391.0" r="1.9" fill="#141414"/><circle cx="9.3" cy="407.4" r="1.9" fill="#141414"/><circle cx="9.3" cy="423.9" r="1.9" fill="#141414"/>
<rect x="78" y="437.2" width="457.5" height="58.6" fill="none" stroke="#ff2bff" stroke-width="2"/>
<path d="M569.6 413.3h9.8M574.5 408.4v9.8" stroke="#ff30ff" stroke-width="2.2"/>
<path d="M574.5 425.6l7.3 7.3-7.3 7.3-7.3-7.3z" fill="none" stroke="#1d7a1d" stroke-width="2"/>
<circle cx="574.5" cy="452.6" r="6.7" fill="#1ee3f7"/>
<rect x="568.1" y="468" width="13.4" height="12.8" fill="#0a0af5"/>
<path d="M93.2 467.3l0 5.6 1.4-1.3 1.2 2.6 1-0.45-1.2-2.5 1.9-0.1z" fill="#3a3a3a"/>
</svg>
</body></html>
